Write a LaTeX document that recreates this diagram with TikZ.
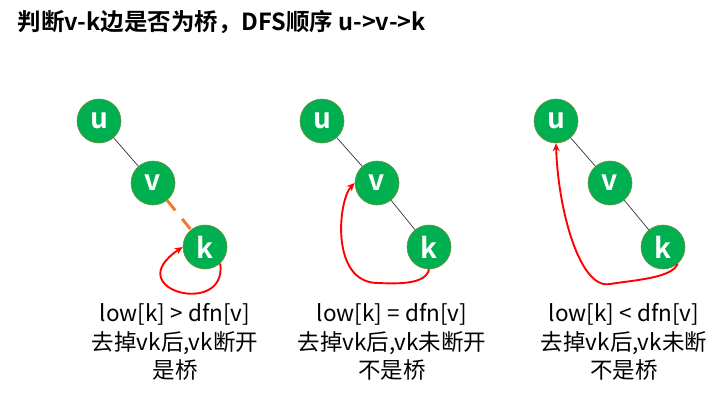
\documentclass[tikz,border=0pt]{standalone}
\usepackage{fontspec}
\setmainfont{Noto Sans CJK SC}[BoldFont={Noto Sans CJK SC Bold}]
\usetikzlibrary{arrows.meta}
\definecolor{ngreen}{HTML}{00B050}
\definecolor{nborder}{HTML}{6F8F3A}
\definecolor{eorange}{HTML}{ED7D31}
\tikzset{
  vnode/.style={circle, fill=ngreen, draw=nborder, line width=0.6pt, minimum size=44pt, inner sep=0pt,
    text=white, font=\fontsize{28}{28}\selectfont\bfseries},
  treeedge/.style={draw=black!80, line width=0.7pt},
  bridgeedge/.style={draw=eorange, line width=3pt, dash pattern=on 13pt off 11pt},
  backedge/.style={draw=red, line width=1.9pt, -{Stealth[length=8pt,width=7pt]}},
  caption/.style={align=center, font=\fontsize{22.5}{28.5}\selectfont},
}
\begin{document}
\begin{tikzpicture}[x=1pt,y=-1pt]
\useasboundingbox (0,0) rectangle (727,400);
\node[anchor=west, font=\fontsize{23.5}{26}\selectfont\bfseries] (title) at (14,22) {判断v-k边是否为桥，DFS顺序 u->v->k};

% panel 1
\node[vnode] (u1) at (99,121) {u};
\node[vnode] (v1) at (153,183) {v};
\node[vnode] (k1) at (205,247) {k};
\draw[treeedge] (u1) -- (v1);
\draw[bridgeedge] (v1) -- (k1);
\draw[backedge] (k1.-47) .. controls (228,318) and (118,290) .. (k1.west);
\node[caption] (t1) at (175,342) {low[k] > dfn[v]\\去掉vk后,vk断开\\是桥};

% panel 2
\node[vnode] (u2) at (322,121) {u};
\node[vnode] (v2) at (377,183) {v};
\node[vnode] (k2) at (429,247) {k};
\draw[treeedge] (u2) -- (v2);
\draw[treeedge] (v2) -- (k2);
\draw[backedge] (k2.south) .. controls (426,284) and (400,284) .. (378,283)
   .. controls (330,283) and (338,200) .. (v2.west);
\node[caption] (t2) at (392,342) {low[k] = dfn[v]\\去掉vk后,vk未断开\\不是桥};

% panel 3
\node[vnode] (u3) at (556,121) {u};
\node[vnode] (v3) at (610,183) {v};
\node[vnode] (k3) at (663,247) {k};
\draw[treeedge] (u3) -- (v3);
\draw[treeedge] (v3) -- (k3);
\draw[backedge] (k3.-49) .. controls (672,278) and (635,280) .. (610,284)
   .. controls (580,290) and (558,210) .. (u3.south);
\node[caption] (t3) at (624,342) {low[k] < dfn[v]\\去掉vk后,vk未断\\不是桥};
\end{tikzpicture}
\end{document}
